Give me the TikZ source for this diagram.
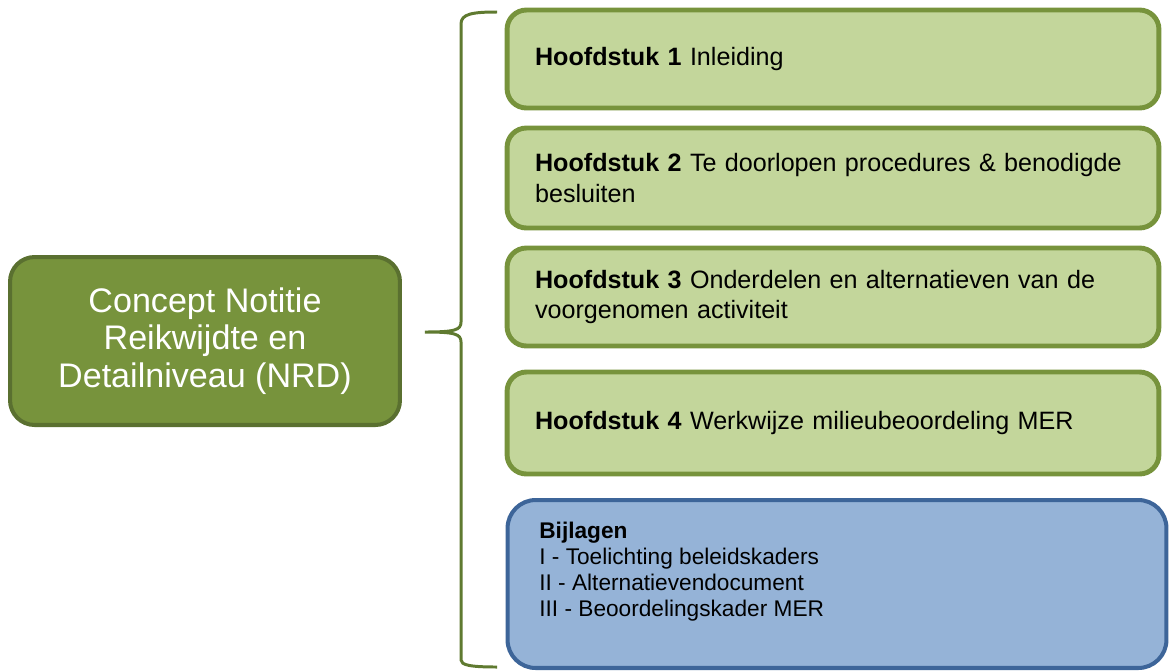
\documentclass[tikz,border=0pt]{standalone}
\usepackage{fontspec}
\setmainfont{Liberation Sans}
\usetikzlibrary{positioning}
\definecolor{nrdfill}{HTML}{77933C}
\definecolor{nrdline}{HTML}{5A7030}
\definecolor{chapfill}{HTML}{C3D69B}
\definecolor{chapline}{HTML}{77933C}
\definecolor{bijlfill}{HTML}{95B3D7}
\definecolor{bijlline}{HTML}{3D6599}
\definecolor{braceline}{HTML}{5F7A30}
\tikzset{
        nrdbox/.style={rectangle,rounded corners=14pt,draw=nrdline,fill=nrdfill,line width=2.3pt,
                minimum width=7.8cm,minimum height=3.36cm,align=center,text=white,
                font=\fontsize{19.4}{21.5}\selectfont},
        chapbox/.style={rectangle,rounded corners=11pt,draw=chapline,fill=chapfill,line width=2.8pt,
                minimum width=13.04cm,text width=11.92cm,inner xsep=0.56cm,align=left,
                font=\fontsize{14.3}{17.6}\selectfont},
        bijlbox/.style={rectangle,rounded corners=16pt,draw=bijlline,fill=bijlfill,line width=2.3pt,
                minimum width=13.18cm,minimum height=3.36cm},
        bijltext/.style={inner sep=0pt,align=left,font=\fontsize{12.9}{14.7}\selectfont},
        brace/.style={draw=braceline,line width=1.7pt}
}
\begin{document}
\begin{tikzpicture}[x=0.02cm,y=-0.02cm]
        \useasboundingbox (0,0) rectangle (1169,670);
        \node [nrdbox] (nrd) at (205,341) {Concept Notitie\\Reikwijdte en\\Detailniveau (NRD)};
        \node [chapbox,minimum height=1.96cm] (h1) at (833,59) {\textbf{Hoofdstuk 1} Inleiding};
        \node [chapbox,minimum height=2cm] (h2) at (833,178) {\textbf{Hoofdstuk 2} Te doorlopen procedures \& benodigde besluiten};
        \node [chapbox,minimum height=1.96cm] (h3) at (833,297) {\textbf{Hoofdstuk 3} Onderdelen en alternatieven van de voorgenomen activiteit};
        \node [chapbox,minimum height=2.04cm] (h4) at (833,423) {\textbf{Hoofdstuk 4} Werkwijze milieubeoordeling MER};
        \node [bijlbox] (bijl) at (837,584) {};
        \node [bijltext,anchor=north west] (bijlt) at (539,522) {\textbf{Bijlagen}\\I - Toelichting beleidskaders\\II - Alternatievendocument\\III - Beoordelingskader MER};

        \draw [brace] (497,12) .. controls (472,12) and (461,14) .. (461,24) -- (461,322)
                .. controls (461,330) and (455,332) .. (425,332)
                .. controls (455,332) and (461,334) .. (461,342) -- (461,660)
                .. controls (461,665) and (470,667) .. (497,667);
\end{tikzpicture}
\end{document}
